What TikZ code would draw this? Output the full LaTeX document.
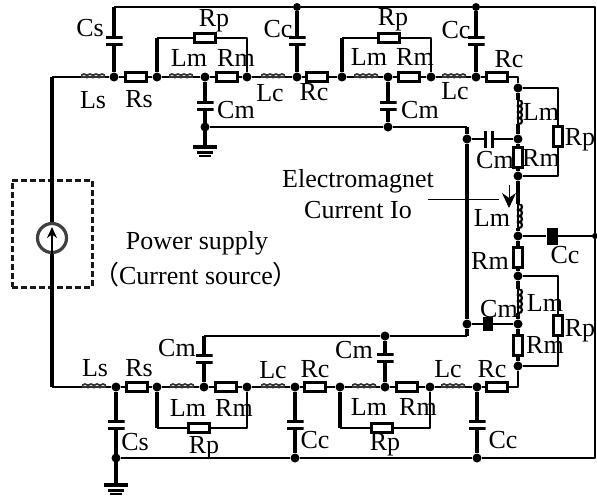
\documentclass[tikz,border=0pt]{standalone}
\usepackage{fontspec}
\setmainfont{Liberation Serif}
\newfontfamily\cjk{Noto Sans CJK SC}
\usetikzlibrary{arrows.meta}

\begin{document}
\begin{tikzpicture}[
    x=1pt, y=-1pt,
    wire/.style={line width=2.5pt, line join=round},
    heavy/.style={line width=3.8pt, line join=round},
    lbl/.style={font=\fontsize{26}{30}\selectfont, anchor=base, inner sep=0pt},
    dot/.style={circle, fill=black, inner sep=0pt, minimum size=9pt},
    res/.style={draw, line width=2.4pt, fill=white, inner sep=0pt, minimum width=21pt, minimum height=9pt},
    resv/.style={draw, line width=3pt, fill=white, inner sep=0pt, minimum width=9pt, minimum height=20pt},
    coilh/.style={inner sep=0pt, minimum width=24pt, minimum height=8pt, path picture={
        \draw[line width=1.7pt, gray!40!black] (path picture bounding box.west)
          \foreach \i in {1,...,4} {arc[start angle=180, end angle=0, radius=3pt]};
        \draw[line width=1.7pt, gray!40!black] (path picture bounding box.west) -- (path picture bounding box.east);}},
    coilv/.style={inner sep=0pt, minimum width=18pt, minimum height=24pt, path picture={
        \draw[line width=2.2pt, black] ([xshift=1pt]path picture bounding box.north)
          \foreach \i in {1,...,4} {arc[start angle=90, end angle=-90, radius=3pt]};
        \draw[line width=2.8pt, black] (path picture bounding box.north) -- (path picture bounding box.south);}},
    caph/.style={inner sep=0pt, minimum width=17pt, minimum height=10pt, path picture={
        \fill (path picture bounding box.north west) rectangle ([yshift=-2.6pt]path picture bounding box.north east);
        \fill (path picture bounding box.south west) rectangle ([yshift=2.6pt]path picture bounding box.south east);}},
    capv/.style={inner sep=0pt, minimum width=10pt, minimum height=17pt, path picture={
        \fill (path picture bounding box.north west) rectangle ([xshift=3.4pt]path picture bounding box.south west);
        \fill (path picture bounding box.north east) rectangle ([xshift=-3.4pt]path picture bounding box.south east);}},
    capfill/.style={fill=black, inner sep=0pt, minimum width=10pt, minimum height=14pt},
    gnd/.style={anchor=north, inner sep=0pt, minimum width=24pt, minimum height=12pt, path picture={
        \fill (path picture bounding box.north west) rectangle ([yshift=-3.4pt]path picture bounding box.north east);
        \fill ([xshift=-8pt,yshift=-5.5pt]path picture bounding box.north) rectangle ([xshift=8pt,yshift=-8.5pt]path picture bounding box.north);
        \fill ([xshift=-6pt,yshift=-9.5pt]path picture bounding box.north) rectangle ([xshift=6pt,yshift=-11.5pt]path picture bounding box.north);}}
]
\useasboundingbox (0,0) rectangle (597,496);

% Power supply
\node[draw, dashed, dash pattern=on 6pt off 3pt, line width=3pt, gray!20!black, minimum width=80pt, minimum height=107pt, inner sep=0pt] (supply) at (52,233.5) {};
\node[circle, draw, line width=3.2pt, gray!50!black, inner sep=0pt, minimum size=29pt] (src) at (52,238) {};
\coordinate (srcTip) at (52,227);
\draw[line width=1.4pt, -{Stealth[length=11pt,width=10pt]}] (src.south) -- (srcTip);

% Corners
\coordinate (cnrTL) at (52,77);
\coordinate (cnrBL) at (52,387);
\coordinate (cnrTR) at (595,7);
\coordinate (cnrBR) at (595,458);
\coordinate (cnrCs) at (114,7);
\coordinate (cnrOut) at (518,77);
\coordinate (cnrOutB) at (518,387);
\coordinate (cnrRetT) at (467,127);
\coordinate (cnrRetB) at (467,336);
\coordinate (cnrCmB) at (204,336);

% Top branch
\node[coilh] (Ls1) at (93,77) {};
\node[dot] (j1) at (114,77) {};
\node[res] (Rs1) at (136,77) {};
\node[dot] (j2) at (157,77) {};
\node[coilh] (Lm1) at (181,77) {};
\node[dot] (j3) at (205,77) {};
\node[res] (Rm1) at (227,77) {};
\node[dot] (j4) at (247,77) {};
\node[coilh] (Lc1) at (273,77) {};
\node[dot] (j5) at (297,77) {};
\node[res] (Rc1) at (317,77) {};
\node[dot] (j6) at (342,77) {};
\node[coilh] (Lm2) at (366,77) {};
\node[dot] (j7) at (388,77) {};
\node[res] (Rm2) at (409,77) {};
\node[dot] (j8) at (431,77) {};
\node[coilh] (Lc2) at (454,77) {};
\node[dot] (j9) at (476,77) {};
\node[res] (Rc2) at (497,77) {};
\node[res] (Rp1) at (205,38) {};
\node[res] (Rp2) at (389,38) {};
\coordinate (rp1L) at (157,38);
\coordinate (rp1R) at (247,38);
\coordinate (rp2L) at (342,38);
\coordinate (rp2R) at (431,38);
\node[caph] (Cs1) at (114,41) {};
\node[caph] (Cc1) at (297,41) {};
\node[caph] (Cc2) at (476,41) {};
\node[caph] (Cm1) at (205,106) {};
\node[caph] (Cm2) at (388,106) {};
\node[dot] (j10) at (205,127) {};
\node[dot] (j11) at (388,127) {};
\node[gnd] (gnd1) at (205,145) {};
\node[dot, minimum size=8pt] (t1) at (297,7) {};
\node[dot, minimum size=8pt] (t2) at (476,7) {};

% Right column
\node[dot] (k1) at (518,88) {};
\node[coilv] (Lm3) at (518,112) {};
\node[dot] (k2) at (518,139) {};
\node[resv] (Rm3) at (518,157) {};
\node[dot] (k3) at (518,176) {};
\node[coilv] (Lm4) at (518,216) {};
\node[dot] (k4) at (518,236) {};
\node[resv] (Rm4) at (518,257) {};
\node[dot] (k5) at (518,276) {};
\node[coilv] (Lm5) at (518,301) {};
\node[dot] (k6) at (518,324) {};
\node[resv] (Rm5) at (518,345) {};
\node[dot] (k7) at (518,366) {};
\node[resv] (Rp3) at (558,136) {};
\node[resv] (Rp4) at (558,325) {};
\coordinate (rp3T) at (558,88);
\coordinate (rp3B) at (558,176);
\coordinate (rp4T) at (558,276);
\coordinate (rp4B) at (558,366);
\node[dot] (r1) at (467,139) {};
\node[dot] (r2) at (467,324) {};
\node[capv] (Cm3) at (489,139) {};
\node[capfill] (Cm4) at (488,324) {};
\node[capfill, minimum width=11pt, minimum height=17pt] (Cc3) at (552,236) {};
\node[dot, minimum size=6pt] (q1) at (595,236) {};

% Bottom branch
\node[coilh] (Ls2) at (94,387) {};
\node[dot] (b1) at (116,387) {};
\node[res] (Rs2) at (137,387) {};
\node[dot] (b2) at (157,387) {};
\node[coilh] (Lm6) at (182,387) {};
\node[dot] (b3) at (204,387) {};
\node[res] (Rm6) at (226,387) {};
\node[dot] (b4) at (247,387) {};
\node[coilh] (Lc3) at (273,387) {};
\node[dot] (b5) at (295,387) {};
\node[res] (Rc3) at (315,387) {};
\node[dot] (b6) at (340,387) {};
\node[coilh] (Lm7) at (364,387) {};
\node[dot] (b7) at (385,387) {};
\node[res] (Rm7) at (407,387) {};
\node[dot] (b8) at (430,387) {};
\node[coilh] (Lc4) at (453,387) {};
\node[dot] (b9) at (477,387) {};
\node[res] (Rc4) at (497,387) {};
\node[res] (Rp5) at (199,428) {};
\node[res] (Rp6) at (382,428) {};
\coordinate (rp5L) at (157,428);
\coordinate (rp5R) at (247,428);
\coordinate (rp6L) at (340,428);
\coordinate (rp6R) at (430,428);
\node[caph] (Cs2) at (116,425) {};
\node[caph] (Cc4) at (295,425) {};
\node[caph] (Cc5) at (477,425) {};
\node[caph] (Cm5) at (204,359) {};
\node[caph] (Cm6) at (385,358) {};
\node[dot] (c1) at (385,336) {};
\node[dot] (g1) at (116,458) {};
\node[dot] (g2) at (295,458) {};
\node[dot] (g3) at (477,458) {};
\node[gnd] (gnd2) at (116,483) {};

% Wires
\draw[heavy] (cnrTL) -- (src.north);
\draw[heavy] (src.south) -- (cnrBL);
\draw[wire] (cnrTL) -- (Ls1) -- (j1) -- (Rs1) -- (j2) -- (Lm1) -- (j3) -- (Rm1) -- (j4) -- (Lc1) -- (j5) -- (Rc1) -- (j6) -- (Lm2) -- (j7) -- (Rm2) -- (j8) -- (Lc2) -- (j9) -- (Rc2) -- (cnrOut) -- (k1);
\draw[wire] (cnrBL) -- (Ls2) -- (b1) -- (Rs2) -- (b2) -- (Lm6) -- (b3) -- (Rm6) -- (b4) -- (Lc3) -- (b5) -- (Rc3) -- (b6) -- (Lm7) -- (b7) -- (Rm7) -- (b8) -- (Lc4) -- (b9) -- (Rc4) -- (cnrOutB) -- (k7);
\draw[wire] (cnrCs) -- (t1) -- (t2) -- (cnrTR) -- (q1) -- (cnrBR) -- (g3) -- (g2) -- (g1);
\draw[heavy] (j1) -- (Cs1);
\draw[heavy] (Cs1) -- (cnrCs);
\draw[heavy] (j5) -- (Cc1);
\draw[heavy] (Cc1) -- (t1);
\draw[heavy] (j9) -- (Cc2);
\draw[heavy] (Cc2) -- (t2);
\draw[heavy] (j3) -- (Cm1);
\draw[heavy] (Cm1) -- (gnd1);
\draw[heavy] (j7) -- (Cm2);
\draw[heavy] (Cm2) -- (j11);
\draw[heavy] (b1) -- (Cs2);
\draw[heavy] (Cs2) -- (gnd2);
\draw[heavy] (b5) -- (Cc4);
\draw[heavy] (Cc4) -- (g2);
\draw[heavy] (b9) -- (Cc5);
\draw[heavy] (Cc5) -- (g3);
\draw[heavy] (b3) -- (Cm5);
\draw[heavy] (Cm5) -- (cnrCmB);
\draw[heavy] (b7) -- (Cm6);
\draw[heavy] (Cm6) -- (c1);
% Parallel resistors
\draw[heavy] (j2) -- (rp1L);
\draw[heavy] (j6) -- (rp2L);
\draw[heavy] (b2) -- (rp5L);
\draw[heavy] (b6) -- (rp6L);
\draw[wire] (rp1L) -- (Rp1) -- (rp1R) -- (j4);
\draw[wire] (rp2L) -- (Rp2) -- (rp2R) -- (j8);
\draw[wire] (rp5L) -- (Rp5) -- (rp5R) -- (b4);
\draw[wire] (rp6L) -- (Rp6) -- (rp6R) -- (b8);
\draw[wire] (k1) -- (rp3T) -- (Rp3) -- (rp3B) -- (k3);
\draw[wire] (k5) -- (rp4T) -- (Rp4) -- (rp4B) -- (k7);
% Right column and return line
\draw[heavy] (k1) -- (Lm3) -- (k2) -- (Rm3) -- (k3) -- (Lm4) -- (k4) -- (Rm4) -- (k5) -- (Lm5) -- (k6) -- (Rm5) -- (k7);
\draw[wire] (j10) -- (j11) -- (cnrRetT);
\draw[heavy] (cnrRetT) -- (r1) -- (r2) -- (cnrRetB);
\draw[wire] (cnrRetB) -- (c1) -- (cnrCmB);
\draw[wire] (r1) -- (Cm3) -- (k2);
\draw[wire] (r2) -- (Cm4) -- (k6);
\draw[wire] (k4) -- (Cc3) -- (q1);

% Electromagnet current
\coordinate (ioL) at (428,199);
\coordinate (ioR) at (499,199);
\coordinate (ioT) at (509,185);
\coordinate (ioB) at (509,208);
\draw[line width=0.9pt] (ioL) -- (ioR);
\draw[line width=0.9pt, -{Stealth[length=15pt,width=14pt]}] (ioT) -- (ioB);

% Labels
\foreach \tx/\px/\py [count=\i] in {
    Cs/90/36, Rp/214/26, Cc/278/37, Lm/189/66, Rm/236/66, Ls/93/108, Rs/139/107, Lc/270/101, Cm/236/118,
    Rc/314/100, Rp/393/25, Lm/369/65, Rm/415/65, Cc/456/38, Rc/509/67, Lc/455/99, Cm/420/118,
    Lm/541/120, Rp/580/145, Cm/495/168, Rm/541/166, Lm/492/226, Cc/565/263, Rm/490/269,
    Lm/545/311, Cm/499/317, Rp/580/336, Rm/545/353, Cm/354/358, Rc/315/377, Lc/448/377, Rc/492/377,
    Lm/369/415, Rm/418/415, Cc/315/448, Cc/503/448, Rp/385/450,
    Cm/177/356, Ls/95/376, Rs/139/376, Lc/273/378, Lm/188/416, Rm/234/416, Cs/135/450, Rp/204/453,
    Electromagnet/358/187, Current Io/358/218, Power supply/197/249}
  \node[lbl] (lbl\i) at (\px,\py) {\tx};
\node[lbl] (lblSrc) at (196,284) {{\cjk （}Current source{\cjk ）}};

\end{tikzpicture}
\end{document}
